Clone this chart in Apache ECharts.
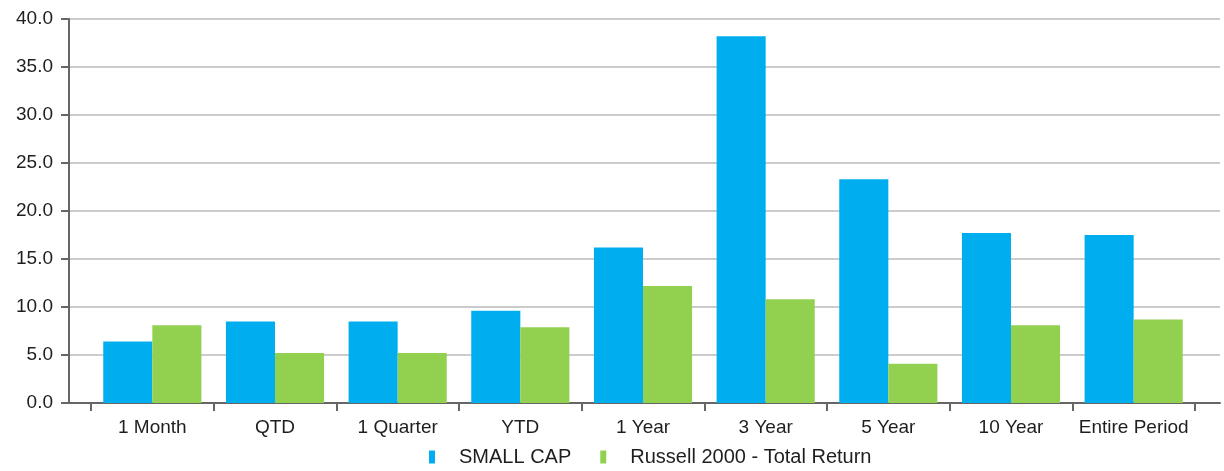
<!DOCTYPE html>
<html>
<head>
<meta charset="utf-8">
<style>
  html, body { margin: 0; padding: 0; background: #fff; }
  #chart { width: 1224px; height: 471px; }
</style>
<script src="https://cdn.jsdelivr.net/npm/echarts@6/dist/echarts.min.js"></script>
</head>
<body>
<div id="chart"></div>
<script>
// Trailing-period returns (%)
const categories = ['1 Month', 'QTD', '1 Quarter', 'YTD', '1 Year', '3 Year', '5 Year', '10 Year', 'Entire Period'];
const smallCap = [6.4, 8.5, 8.5, 9.6, 16.2, 38.2, 23.3, 17.7, 17.5];
const russell2000 = [8.1, 5.2, 5.2, 7.9, 12.2, 10.8, 4.1, 8.1, 8.7];
const seriesNames = ['SMALL CAP', 'Russell 2000 - Total Return'];
const yMin = 0, yMax = 40, yStep = 5;

const FONT = '"Liberation Sans", Arial, sans-serif';
const FONT_SIZE = 19;
const AXIS_COLOR = '#666666';
const TEXT_COLOR = '#1e1e1e';

const chart = echarts.init(document.getElementById('chart'), null, { renderer: 'canvas' });

const gridTop = 19, gridBottom = 68;

chart.setOption({
  animation: false,
  textStyle: { fontFamily: FONT },
  color: ['#00AEEF', '#92D050'],
  legend: {
    left: 429,
    top: 447,
    padding: 0,
    itemWidth: 6,
    itemHeight: 13,
    itemGap: 29,
    icon: 'rect',
    textStyle: { fontSize: 20, color: TEXT_COLOR, fontFamily: FONT, padding: [0, 0, 0, 19] },
    data: seriesNames
  },
  grid: [
    // frame: axis lines and gridlines
    { left: 69, right: 4, top: gridTop, bottom: gridBottom, containLabel: false },
    // bars
    { left: 91, right: 29, top: gridTop, bottom: gridBottom, containLabel: false }
  ],
  xAxis: [
    {
      gridIndex: 0, type: 'category', data: [''],
      axisLine: { show: true, lineStyle: { color: AXIS_COLOR, width: 2 } },
      axisTick: { show: false }, axisLabel: { show: false }, splitLine: { show: false }
    },
    {
      gridIndex: 1, type: 'category', data: categories,
      axisLine: { show: false },
      axisTick: { show: true, interval: 0, length: 8, lineStyle: { color: AXIS_COLOR, width: 2 } },
      axisLabel: { interval: 0, fontSize: FONT_SIZE, color: TEXT_COLOR, margin: 15, fontFamily: FONT },
      splitLine: { show: false }
    }
  ],
  yAxis: [
    {
      gridIndex: 0, type: 'value', min: yMin, max: yMax, interval: yStep,
      axisLine: { show: true, lineStyle: { color: AXIS_COLOR, width: 2 } },
      axisTick: { show: true, length: 8, lineStyle: { color: AXIS_COLOR, width: 2 } },
      axisLabel: { fontSize: FONT_SIZE, color: TEXT_COLOR, margin: 16, fontFamily: FONT,
                   formatter: v => v.toFixed(1) },
      splitLine: { show: true, lineStyle: { color: '#cccccc', width: 2 } }
    },
    {
      gridIndex: 1, type: 'value', min: yMin, max: yMax, interval: yStep, show: false,
      splitLine: { show: false }
    }
  ],
  series: [
    {
      name: seriesNames[0], type: 'bar', xAxisIndex: 1, yAxisIndex: 1,
      data: smallCap, barGap: '0%', barCategoryGap: '20%'
    },
    {
      name: seriesNames[1], type: 'bar', xAxisIndex: 1, yAxisIndex: 1,
      data: russell2000, barGap: '0%', barCategoryGap: '20%'
    }
  ]
});
</script>
</body>
</html>
